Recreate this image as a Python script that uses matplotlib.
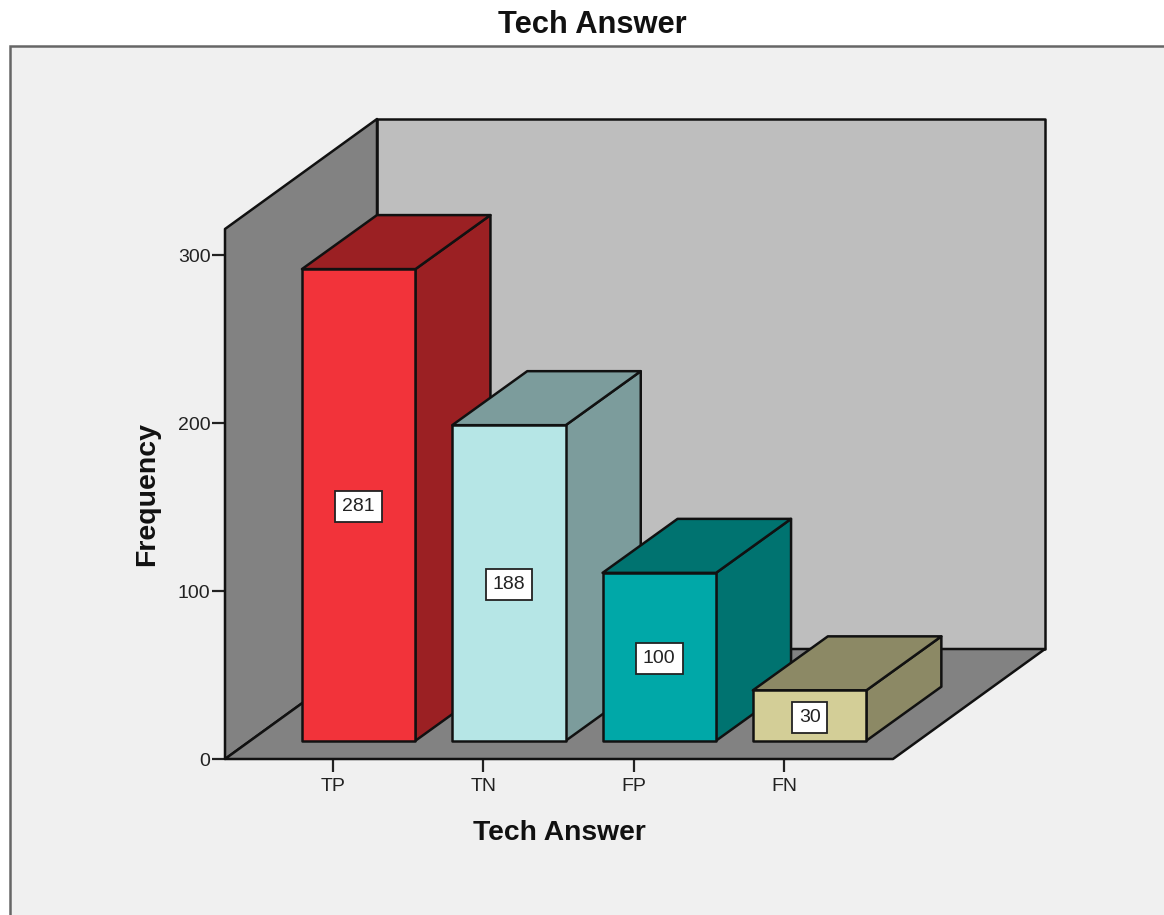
import matplotlib
matplotlib.use("Agg")
import matplotlib.pyplot as plt
from matplotlib.patches import Polygon, Rectangle

categories = ["TP", "TN", "FP", "FN"]
frequencies = [281, 188, 100, 30]
front_colors = ["#F2333A", "#B6E6E6", "#00A8A8", "#D3CE97"]
shade_colors = ["#9B2023", "#7C9C9C", "#007370", "#8C8965"]
y_ticks = [0, 100, 200, 300]

W, H = 1164, 915
plt.rcParams["font.family"] = ["Liberation Sans", "DejaVu Sans"]
fig = plt.figure(figsize=(W / 100, H / 100), dpi=100, facecolor="white")

# outer chart frame
fig.add_artist(Rectangle((10 / W, -0.02), 1.02 - 10 / W, 1.02 - 46 / H,
                         transform=fig.transFigure, facecolor="#F0F0F0",
                         edgecolor="#666666", linewidth=1.8, zorder=-1))

# axes: y=0 on the front floor edge, x ticks at category positions
left, right, bottom, top = 225, 893, 759, 255.5
ax = fig.add_axes([left / W, 1 - bottom / H, (right - left) / W, (bottom - top) / H])
step = 150.3
px_y = (bottom - top) / 300
ax.set_xlim((left - 333) / step, (right - 333) / step)
ax.set_ylim(0, 300)
ax.patch.set_visible(False)
for s in ax.spines.values():
    s.set_visible(False)

EDGE = dict(edgecolor="#111111", linewidth=1.8, joinstyle="round", clip_on=False)
x0, x1 = ax.get_xlim()
room_dx, room_dy = 152 / step, 110 / px_y
wall_h = 530 / px_y

def poly(points, color, z):
    ax.add_patch(Polygon(points, closed=True, facecolor=color, zorder=z, **EDGE))

poly([(x0 + room_dx, room_dy), (x1 + room_dx, room_dy),
      (x1 + room_dx, room_dy + wall_h), (x0 + room_dx, room_dy + wall_h)], "#BEBEBE", 1)
poly([(x0, 0), (x0 + room_dx, room_dy), (x0 + room_dx, room_dy + wall_h), (x0, wall_h)], "#828282", 2)
poly([(x0, 0), (x1, 0), (x1 + room_dx, room_dy), (x0 + room_dx, room_dy)], "#828282", 2)

bar_w = 113.5 / step
shift_x, base = 25.7 / step, 18.3 / px_y
dx, dy = 75 / step, 54 / px_y

for i, (v, fc, sc) in enumerate(zip(frequencies, front_colors, shade_colors)):
    z = 3 + 2 * i
    xl = i + shift_x - bar_w / 2
    xr = xl + bar_w
    yb, yt = base, base + v
    poly([(xr, yb), (xr + dx, yb + dy), (xr + dx, yt + dy), (xr, yt)], sc, z)
    poly([(xl, yt), (xr, yt), (xr + dx, yt + dy), (xl + dx, yt + dy)], sc, z)
    ax.bar(i + shift_x, v, width=bar_w, bottom=base, color=fc, zorder=z + 1, **EDGE)
    ax.text(i + shift_x, base + v / 2, str(v), ha="center", va="center_baseline", fontsize=14,
            color="#222222", zorder=z + 1.5, clip_on=False,
            bbox=dict(boxstyle="square,pad=0.36", facecolor="white", edgecolor="#222222", linewidth=1.3))

ax.set_xticks(range(len(categories)), categories)
ax.set_yticks(y_ticks)
ax.tick_params(axis="both", length=9.4, width=1.6, color="#222222", labelsize=14,
               labelcolor="#222222", pad=1)
ax.tick_params(axis="x", pad=4.5)
for label in ax.get_yticklabels():
    label.set_va("center_baseline")

ax.set_xlabel("Tech Answer", fontsize=20.3, fontweight="bold", color="#111111", labelpad=17.5)
ax.set_ylabel("Frequency", fontsize=20.5, fontweight="bold", color="#111111", labelpad=13,
              y=(bottom - 494) / (bottom - top))
ax.set_title("Tech Answer", fontsize=22.2, fontweight="bold", color="#111111",
             x=(592 - left) / (right - left), y=(bottom - 33) / (bottom - top), pad=0)

fig.savefig("out.png", dpi=100, facecolor=fig.get_facecolor())
